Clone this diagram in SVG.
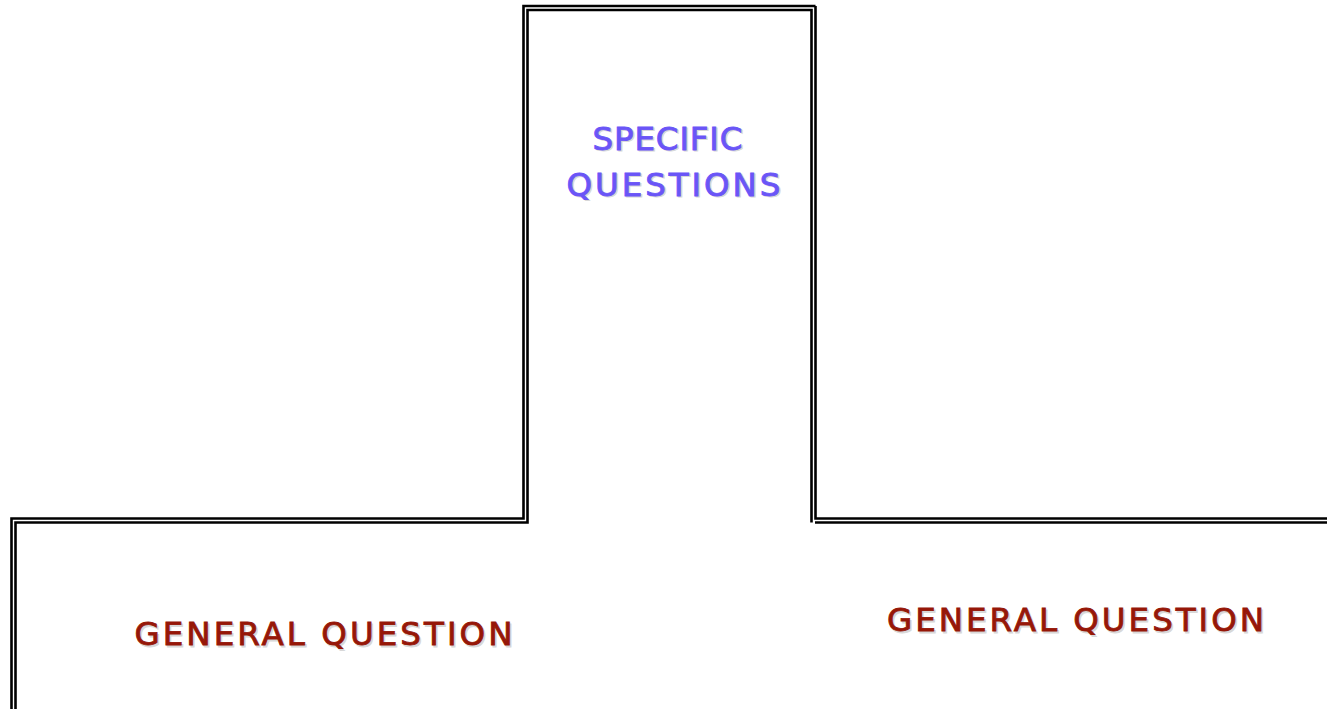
<svg xmlns="http://www.w3.org/2000/svg" width="1327" height="709" viewBox="0 0 1327 709">
  <defs>
    <style>
      .wall { fill: none; stroke: #000; stroke-width: 2.6; }
      .lbl { font-family: "DejaVu Sans", "Noto Sans", sans-serif; font-size: 32.5px; text-anchor: middle; stroke-width: 0.9; }
      .spec { fill: #6a55f7; stroke: #6a55f7; }
      .gen { fill: #961708; stroke: #961708; }
      .shadow { fill: #d8d8d8; stroke: #d8d8d8; }
    </style>
  </defs>
  <rect width="1327" height="709" fill="#fff"/>
  <g id="walls">
    <polyline class="wall" points="11.5,709 11.5,518.5 523.5,518.5 523.5,6 815.5,6"/>
    <polyline class="wall" points="815.5,6 815.5,518.5 1327,518.5"/>
    <polyline class="wall" points="15.5,709 15.5,522.5 527.5,522.5 527.5,10 811.5,10 811.5,522.5"/>
    <line class="wall" x1="815" y1="522.5" x2="1327" y2="522.5"/>
  </g>
  <g id="specific">
    <text class="lbl shadow" x="669" y="151" textLength="150" lengthAdjust="spacing">SPECIFIC</text>
    <text class="lbl shadow" x="675" y="197" textLength="214" lengthAdjust="spacing">QUESTIONS</text>
    <text class="lbl spec" x="667.5" y="149.5" textLength="150" lengthAdjust="spacing">SPECIFIC</text>
    <text class="lbl spec" x="673.5" y="195.5" textLength="214" lengthAdjust="spacing">QUESTIONS</text>
  </g>
  <g id="general-left">
    <text class="lbl shadow" x="325" y="646.5" textLength="378" lengthAdjust="spacing">GENERAL  QUESTION</text>
    <text class="lbl gen" x="323.5" y="645" textLength="378" lengthAdjust="spacing">GENERAL  QUESTION</text>
  </g>
  <g id="general-right">
    <text class="lbl shadow" x="1077" y="632.5" textLength="377" lengthAdjust="spacing">GENERAL  QUESTION</text>
    <text class="lbl gen" x="1075.5" y="631" textLength="377" lengthAdjust="spacing">GENERAL  QUESTION</text>
  </g>
</svg>
